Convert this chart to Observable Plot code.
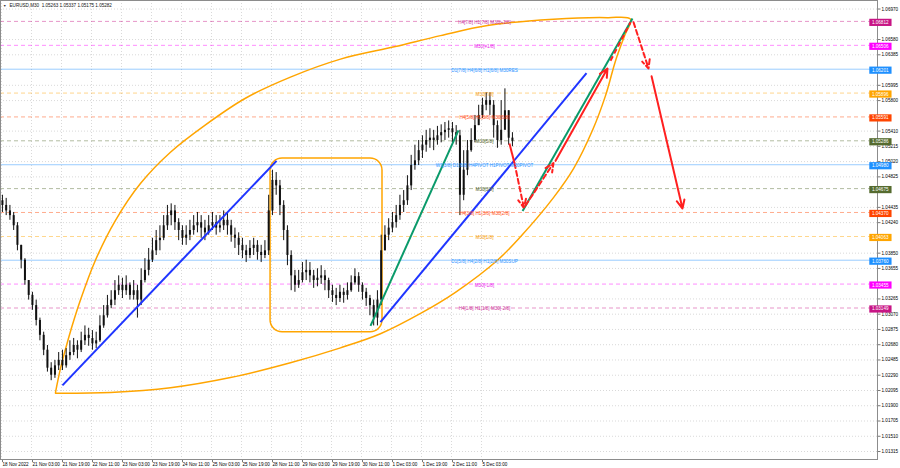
<!DOCTYPE html>
<html><head><meta charset="utf-8">
<script src="https://cdn.jsdelivr.net/npm/d3@7"></script>
<script src="https://cdn.jsdelivr.net/npm/@observablehq/plot@0.6"></script>
<style>html,body{margin:0;padding:0;background:#fff}#chart svg{display:block}</style>
</head><body><div id="chart"></div>
<script>
// ---------- data ----------
const titleText = "EURUSD,M30  1.05263 1.05337 1.05175 1.05282";
const priceTicks = [1.01315,1.01510,1.01705,1.01900,1.02095,1.02290,1.02485,1.02680,1.02875,1.03070,1.03265,1.03655,1.03850,1.04240,1.04435,1.04825,1.05020,1.05215,1.05410,1.05800,1.05995,1.06385,1.06580,1.06970];
const timeLabels = ["18 Nov 2022","21 Nov 03:00","21 Nov 19:00","22 Nov 11:00","23 Nov 03:00","23 Nov 19:00","24 Nov 11:00","25 Nov 03:00","25 Nov 19:00","28 Nov 11:00","29 Nov 03:00","29 Nov 19:00","30 Nov 11:00","1 Dec 03:00","1 Dec 19:00","2 Dec 11:00","5 Dec 03:00"];
const barsPerLabel = 16; // M30 bars between time labels

// one candle per two M30 bars
const firstOpen = 1.0452;
const candleClose = [1.0446,1.0439,1.0433,1.0420,1.0395,1.0376,1.0350,1.0331,1.0318,1.0299,
1.0280,1.0261,1.0238,1.0229,1.0241,1.0248,1.0241,1.0254,1.0258,1.0267,
1.0261,1.0273,1.0280,1.0276,1.0269,1.0273,1.0292,1.0305,1.0318,1.0325,
1.0337,1.0344,1.0337,1.0344,1.0331,1.0337,1.0325,1.0350,1.0363,1.0376,
1.0388,1.0401,1.0404,1.0420,1.0433,1.0439,1.0424,1.0414,1.0404,1.0408,
1.0414,1.0420,1.0424,1.0417,1.0411,1.0420,1.0424,1.0417,1.0420,1.0427,
1.0420,1.0408,1.0404,1.0395,1.0388,1.0382,1.0391,1.0395,1.0386,1.0382,
1.0388,1.0439,1.0478,1.0471,1.0446,1.0414,1.0382,1.0356,1.0344,1.0350,
1.0360,1.0363,1.0356,1.0350,1.0353,1.0356,1.0350,1.0337,1.0331,1.0327,
1.0335,1.0331,1.0337,1.0347,1.0355,1.0344,1.0335,1.0327,1.0318,1.0302,
1.0325,1.0388,1.0408,1.0417,1.0424,1.0433,1.0446,1.0452,1.0471,1.0497,
1.0503,1.0516,1.0523,1.0529,1.0532,1.0529,1.0535,1.0539,1.0542,1.0544,
1.0539,1.0535,1.0459,1.0491,1.0516,1.0529,1.0548,1.0561,1.0574,1.0580,
1.0574,1.0548,1.0529,1.0542,1.0567,1.0532,1.0528];
const candleHigh = [1.0459,1.0455,1.0446,1.0437,1.0424,1.0395,1.0378,1.0350,1.0335,1.0325,
1.0302,1.0284,1.0267,1.0245,1.0248,1.0258,1.0261,1.0263,1.0273,1.0276,
1.0273,1.0284,1.0292,1.0289,1.0286,1.0284,1.0305,1.0318,1.0331,1.0337,
1.0350,1.0356,1.0353,1.0356,1.0347,1.0350,1.0344,1.0365,1.0378,1.0391,
1.0404,1.0414,1.0420,1.0433,1.0446,1.0448,1.0446,1.0429,1.0420,1.0420,
1.0427,1.0433,1.0437,1.0433,1.0427,1.0433,1.0437,1.0433,1.0433,1.0439,
1.0437,1.0427,1.0417,1.0411,1.0404,1.0395,1.0401,1.0404,1.0401,1.0395,
1.0401,1.0459,1.0491,1.0488,1.0478,1.0452,1.0420,1.0388,1.0363,1.0363,
1.0373,1.0376,1.0373,1.0363,1.0365,1.0369,1.0363,1.0353,1.0344,1.0340,
1.0344,1.0340,1.0347,1.0356,1.0365,1.0360,1.0347,1.0340,1.0331,1.0325,
1.0337,1.0408,1.0420,1.0429,1.0437,1.0446,1.0459,1.0465,1.0484,1.0510,
1.0523,1.0529,1.0535,1.0542,1.0544,1.0542,1.0547,1.0549,1.0552,1.0554,
1.0552,1.0548,1.0542,1.0516,1.0529,1.0544,1.0561,1.0574,1.0583,1.0590,
1.0590,1.0580,1.0554,1.0580,1.0595,1.0567,1.0539];
const candleLow = [1.0437,1.0433,1.0427,1.0414,1.0388,1.0365,1.0344,1.0325,1.0312,1.0292,
1.0273,1.0254,1.0233,1.0222,1.0225,1.0235,1.0235,1.0238,1.0248,1.0254,
1.0250,1.0258,1.0267,1.0266,1.0261,1.0263,1.0271,1.0289,1.0302,1.0314,
1.0318,1.0331,1.0327,1.0331,1.0325,1.0325,1.0302,1.0318,1.0347,1.0356,
1.0373,1.0382,1.0388,1.0401,1.0414,1.0420,1.0414,1.0401,1.0395,1.0395,
1.0401,1.0408,1.0411,1.0404,1.0401,1.0408,1.0414,1.0408,1.0411,1.0414,
1.0408,1.0399,1.0391,1.0382,1.0378,1.0373,1.0378,1.0382,1.0376,1.0373,
1.0378,1.0382,1.0433,1.0459,1.0433,1.0401,1.0369,1.0337,1.0335,1.0340,
1.0347,1.0350,1.0347,1.0340,1.0342,1.0345,1.0337,1.0327,1.0322,1.0318,
1.0322,1.0321,1.0325,1.0335,1.0344,1.0335,1.0325,1.0317,1.0305,1.0292,
1.0292,1.0318,1.0388,1.0401,1.0411,1.0417,1.0427,1.0437,1.0446,1.0465,
1.0491,1.0497,1.0506,1.0514,1.0519,1.0516,1.0523,1.0526,1.0529,1.0532,
1.0526,1.0523,1.0433,1.0452,1.0484,1.0514,1.0526,1.0548,1.0557,1.0567,
1.0561,1.0532,1.0519,1.0523,1.0548,1.0523,1.0521];

// Murrey-math levels
const levelNames = ["H4[7/8] H1[7/8] M30[+2/8]","M30[+1/8]","D1[7/8] H4[6/8] H1[6/8] M30RES","M30[7/8]","H4[5/8] H1[5/8] M30[6/8]","M30[5/8]","W1[3/8] D1[6/8] H4PIVOT H1PIVOT M30PIVOT","M30[3/8]","H4[3/8] H1[3/8] M30[2/8]","M30[1/8]","D1[5/8] H4[2/8] H1[2/8] M30SUP","M30[-1/8]","H4[1/8] H1[1/8] M30[-2/8]"];
const levelPrices = [1.06812,1.06506,1.06201,1.05896,1.05591,1.05286,1.04980,1.04675,1.04370,1.04063,1.03760,1.03455,1.03149];
const levelKinds = ["violet","magenta","blue","orange","orangered","olive","blue","olive","orangered","orange","blue","magenta","violet"];

// hand-drawn objects (bar index, price)
const blueLines = [{b1:32.5,p1:1.0216,b2:146.7,p2:1.0503},{b1:202.1,p1:1.0297,b2:312.0,p2:1.0615}];
const greenLines = [{b1:196.8,p1:1.0292,b2:243.7,p2:1.0542},{b1:277.9,p1:1.0439,b2:336.5,p2:1.0685}];
const redSegments = [
  {b1:270.9,p1:1.0525,b2:273.6,p2:1.0500,kind:"solid"},
  {b1:324.8,p1:1.0631,b2:335.5,p2:1.0680,kind:"dashed"}];
const redArrows = [
  {b1:273.6,p1:1.0500,b2:278.6,p2:1.0443,kind:"dashed"},
  {b1:279.5,p1:1.0446,b2:294.4,p2:1.0500,kind:"dashed"},
  {b1:295.5,p1:1.0503,b2:323.2,p2:1.0621,kind:"solid"},
  {b1:337.1,p1:1.0680,b2:345.1,p2:1.0621,kind:"dashed"},
  {b1:346.7,p1:1.0611,b2:363.2,p2:1.0442,kind:"solid"}];
const roundBox = [{b1:143.5,b2:203.2,p1:1.0506,p2:1.0284}];
const ellipseBars = [28.8,31.5,35.7,42.1,50.1,60.8,74.1,90.1,108.8,130.1,154.1,180.8,210.1,234.1,259.2,294.4,323.2,335.5,332.3,327.5,322.1,315.2,305.1,294.4,276.8,264.5,242.1,223.5,202.1,180.8,154.1,122.1,90.1,58.1,28.8];
const ellipsePrices = [1.0207,1.0238,1.0276,1.0325,1.0376,1.0427,1.0474,1.0514,1.0549,1.0583,1.0610,1.0633,1.0649,1.0663,1.0676,1.0684,1.0686,1.0684,1.0663,1.0631,1.0586,1.0542,1.0493,1.0456,1.0406,1.0376,1.0335,1.0308,1.0282,1.0264,1.0245,1.0226,1.0213,1.0207,1.0206];

// ---------- build ----------
const kindColor = {violet:"#c71585", magenta:"#ff00ff", blue:"#1e90ff", orange:"#ffa500", orangered:"#ff4500", olive:"#556b2f"};
const levelText = {violet:"#cc3399", magenta:"#e818e8", blue:"#2f94ff", orange:"#f29a10", orangered:"#ff5020", olive:"#55622a"};
const levels = levelPrices.map((p, i) => ({price: p, name: levelNames[i], kind: levelKinds[i]}));
const candles = candleClose.map((c, k) => ({b: 2 * k + 0.5, open: k ? candleClose[k - 1] : firstOpen, close: c, high: candleHigh[k], low: candleLow[k]}));
const ellipse = ellipseBars.map((b, i) => ({b, p: ellipsePrices[i]}));
const timeTicks = timeLabels.map((_, j) => j * barsPerLabel);
const fmt5 = d3.format(".5f");
const FS = 4.6;
const labelBar = 257.6;

const plot = Plot.plot({
  width: 900, height: 468,
  marginLeft: 0, marginRight: 23, marginTop: 0, marginBottom: 9,
  style: {fontFamily: "'Liberation Sans', Arial, sans-serif", fontSize: FS + "px", background: "#fff", color: "#000"},
  x: {type: "linear", domain: [-0.533, 467.2], axis: null},
  y: {domain: [1.01213, 1.07079], axis: null},
  marks: [
    Plot.gridX(timeTicks, {stroke: "#d9d9d9", strokeOpacity: 1, strokeDasharray: "1,2"}),
    Plot.gridY(priceTicks, {stroke: "#d9d9d9", strokeOpacity: 1, strokeDasharray: "1,2"}),
    Plot.ruleY(levels.filter(d => d.kind !== "blue"), {y: "price", stroke: d => kindColor[d.kind], strokeOpacity: 0.45, strokeDasharray: "4,3", strokeWidth: 1}),
    Plot.ruleY(levels.filter(d => d.kind === "blue"), {y: "price", stroke: d => kindColor[d.kind], strokeOpacity: 0.45, strokeWidth: 1}),
    Plot.line(ellipse, {x: "b", y: "p", curve: "catmull-rom", stroke: "#ffa500", strokeWidth: 1.5}),
    Plot.rect(roundBox, {x1: "b1", x2: "b2", y1: "p1", y2: "p2", rx: 12, fill: "none", stroke: "#ffa500", strokeWidth: 1.5}),
    Plot.ruleX(candles, {x: "b", y1: "low", y2: "high", stroke: "#111", strokeWidth: 1}),
    Plot.ruleX(candles, {x: "b", y1: "open", y2: "close", stroke: "#111", strokeWidth: 2}),
    Plot.link(blueLines, {x1: "b1", y1: "p1", x2: "b2", y2: "p2", stroke: "#1f35ff", strokeWidth: 2}),
    Plot.link(greenLines, {x1: "b1", y1: "p1", x2: "b2", y2: "p2", stroke: "#0a9a6a", strokeWidth: 2}),
    Plot.link(redSegments.filter(d => d.kind === "solid"), {x1: "b1", y1: "p1", x2: "b2", y2: "p2", stroke: "#ff2020", strokeWidth: 2}),
    Plot.link(redSegments.filter(d => d.kind === "dashed"), {x1: "b1", y1: "p1", x2: "b2", y2: "p2", stroke: "#ff2020", strokeWidth: 2, strokeDasharray: "5,3"}),
    Plot.arrow(redArrows.filter(d => d.kind === "solid"), {x1: "b1", y1: "p1", x2: "b2", y2: "p2", stroke: "#ff2020", strokeWidth: 2, headLength: 7, headAngle: 50}),
    Plot.arrow(redArrows.filter(d => d.kind === "dashed"), {x1: "b1", y1: "p1", x2: "b2", y2: "p2", stroke: "#ff2020", strokeWidth: 2, headLength: 7, headAngle: 50, strokeDasharray: "5,3"}),
    Plot.text(levels, {x: () => labelBar, y: "price", text: "name", fill: d => levelText[d.kind], fontSize: FS, dy: 1}),
    Plot.axisY(priceTicks, {anchor: "right", tickSize: 2.5, tickPadding: 1.5, tickFormat: fmt5, fontSize: FS, stroke: "#777"}),
    Plot.axisX(timeTicks, {anchor: "bottom", tickSize: 3, tickPadding: 0.5, tickFormat: d => timeLabels[timeTicks.indexOf(d)], textAnchor: "start", dx: 1, fontSize: FS, stroke: "#777"}),
    Plot.frame({stroke: "#8c8c8c"}),
    Plot.text(levels, {frameAnchor: "right", y: "price", text: d => fmt5(d.price), fill: d => kindColor[d.kind], fontSize: FS, dx: 11, dy: 1, className: "pricebox"}),
    Plot.text([titleText], {frameAnchor: "top-left", text: d => d, textAnchor: "start", lineAnchor: "top", dx: 9, dy: 3.5, fontSize: FS, fill: "#111"}),
    Plot.text(["\u25BC"], {frameAnchor: "top-left", text: d => d, textAnchor: "start", lineAnchor: "top", dx: 2.5, dy: 4, fontSize: 3.5, fill: "#333"})
  ]
});
document.getElementById("chart").append(plot);

// coloured background boxes behind the level prices on the right scale
d3.select(plot).selectAll("g.pricebox text").each(function () {
  const t = d3.select(this);
  const bb = this.getBBox();
  const col = t.attr("fill");
  const cy = bb.y + bb.height / 2;
  d3.select(this.parentNode).insert("rect", () => this)
    .attr("transform", t.attr("transform"))
    .attr("x", bb.x - 2.6).attr("width", bb.width + 5.2)
    .attr("y", cy - 3.6).attr("height", 7.2)
    .attr("fill", col);
  t.attr("fill", "#fff");
});
</script>
</body></html>
